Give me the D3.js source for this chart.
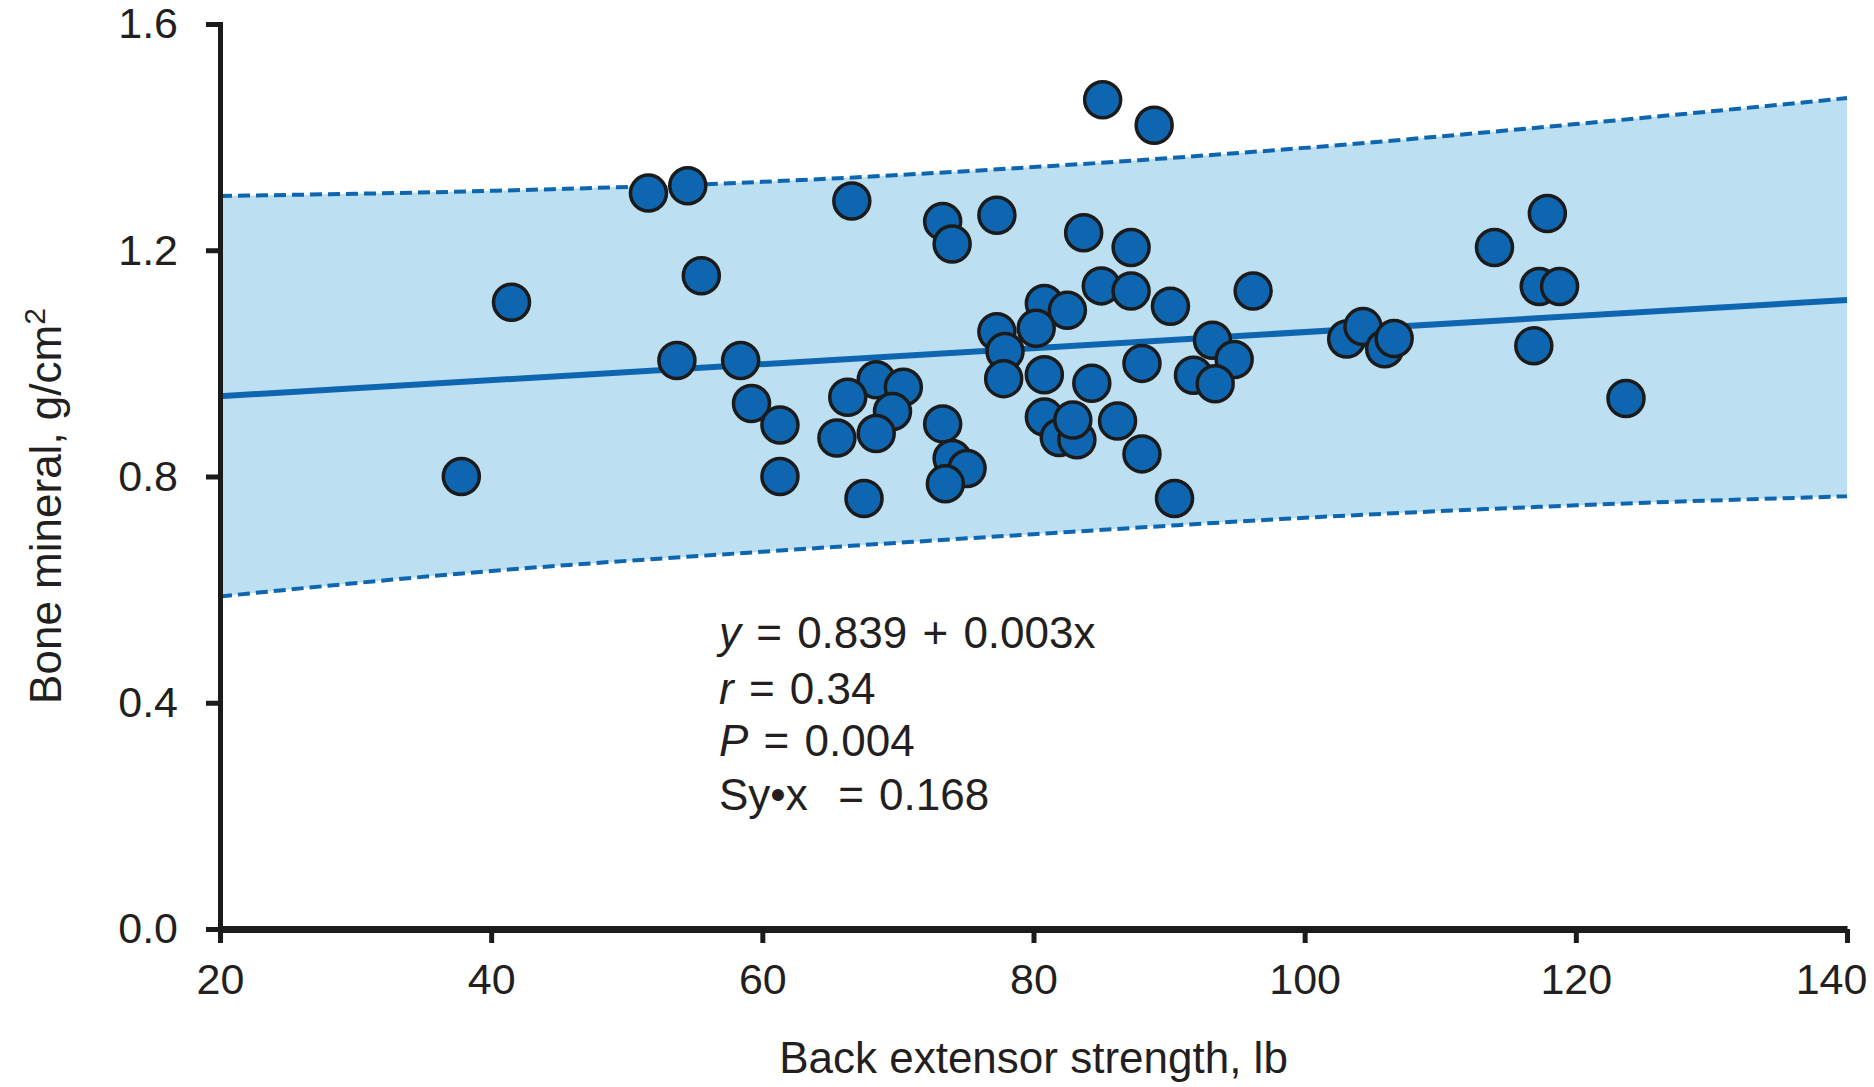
<!DOCTYPE html>
<html>
<head>
<meta charset="utf-8">
<script src="https://cdn.jsdelivr.net/npm/d3@7"></script>
<style>
  body { margin: 0; background: #fff; }
  text { font-family: "Liberation Sans", Arial, Helvetica, sans-serif; fill: #231f20; }
</style>
</head>
<body>
<div id="chart"></div>
<script>
// back extensor strength (lb) vs bone mineral (g/cm2)
var strength = [37.8, 41.5, 51.6, 54.5, 55.5, 53.7, 58.4, 59.2, 61.3, 61.3,
                66.6, 73.3, 74.0, 77.3, 83.7, 87.2, 85.0, 87.2, 80.8, 82.5,
                77.3, 80.2, 77.9, 77.8, 80.8, 84.3, 88.0, 80.8, 81.9, 83.2,
                82.9, 86.2, 88.0, 90.4, 68.4, 70.4, 66.3, 69.6, 65.5, 68.4,
                73.3, 74.0, 75.1, 73.5, 67.5, 85.1, 88.9, 90.1, 96.2, 93.2,
                94.8, 91.8, 93.4, 103.1, 104.3, 105.9, 106.6, 114.0, 117.9, 117.3,
                118.8, 116.9, 123.7];
var bone     = [0.800, 1.108, 1.301, 1.314, 1.155, 1.005, 1.005, 0.929, 0.891, 0.800,
                1.287, 1.251, 1.211, 1.262, 1.231, 1.205, 1.137, 1.128, 1.106, 1.094,
                1.056, 1.062, 1.021, 0.973, 0.980, 0.965, 1.000, 0.905, 0.869, 0.865,
                0.900, 0.898, 0.840, 0.761, 0.971, 0.958, 0.940, 0.915, 0.868, 0.876,
                0.893, 0.832, 0.814, 0.787, 0.761, 1.466, 1.421, 1.101, 1.128, 1.041,
                1.007, 0.979, 0.964, 1.043, 1.065, 1.026, 1.044, 1.205, 1.265, 1.136,
                1.136, 1.031, 0.938];

// regression line as drawn
var fitX = [20, 140];
var fitY = [0.942, 1.112];

// dashed band edges
var bandX     = [20, 40, 60, 80, 100, 120, 140];
var bandUpper = [1.296, 1.305, 1.321, 1.347, 1.381, 1.423, 1.469];
var bandLower = [0.588, 0.633, 0.667, 0.698, 0.727, 0.749, 0.765];

var xTicks = [20, 40, 60, 80, 100, 120, 140];
var yTicks = [0, 0.4, 0.8, 1.2, 1.6];

var statItalic = ["y", "r", "P", ""];
var statRest   = [" = 0.839 + 0.003x", " = 0.34", " = 0.004", "Sy\u2022x  = 0.168"];

var width = 1874;
var height = 1087;
var margin = {top: 24, right: 27, bottom: 158, left: 220};

var blue = "#0f66b0";
var bandFill = "#bcdff2";

var x = d3.scaleLinear().domain([20, 140]).range([margin.left, width - margin.right]);
var y = d3.scaleLinear().domain([0, 1.6]).range([height - margin.bottom, margin.top]);

var svg = d3.select("#chart")
  .append("svg")
    .attr("width", width)
    .attr("height", height);

var band = bandX.map(function(d, i) { return {x: d, lo: bandLower[i], hi: bandUpper[i]}; });

svg.append("path")
    .datum(band)
    .attr("fill", bandFill)
    .attr("d", d3.area()
        .curve(d3.curveMonotoneX)
        .x(function(d) { return x(d.x); })
        .y0(function(d) { return y(d.lo); })
        .y1(function(d) { return y(d.hi); }));

["hi", "lo"].forEach(function(k) {
  svg.append("path")
      .datum(band)
      .attr("fill", "none")
      .attr("stroke", blue)
      .attr("stroke-width", 4)
      .attr("stroke-dasharray", "12,6")
      .attr("d", d3.line()
          .curve(d3.curveMonotoneX)
          .x(function(d) { return x(d.x); })
          .y(function(d) { return y(d[k]); }));
});

svg.append("path")
    .datum(fitX.map(function(d, i) { return [d, fitY[i]]; }))
    .attr("fill", "none")
    .attr("stroke", blue)
    .attr("stroke-width", 6)
    .attr("d", d3.line()
        .x(function(d) { return x(d[0]); })
        .y(function(d) { return y(d[1]); }));

svg.append("g")
    .selectAll("circle")
    .data(strength)
    .enter()
      .append("circle")
      .attr("cx", function(d) { return x(d); })
      .attr("cy", function(d, i) { return y(bone[i]); })
      .attr("r", 18)
      .attr("fill", blue)
      .attr("stroke", "#1b1b1b")
      .attr("stroke-width", 3.5);

// axes
var xAxis = svg.append("g")
    .attr("transform", "translate(0," + y(0) + ")")
    .call(d3.axisBottom(x).tickValues(xTicks).tickSize(14).tickSizeOuter(0).tickPadding(20));

var yAxis = svg.append("g")
    .attr("transform", "translate(" + x(20) + ",0)")
    .call(d3.axisLeft(y).tickValues(yTicks).tickSize(14).tickSizeOuter(0).tickPadding(28)
        .tickFormat(d3.format(".1f")));

xAxis.select(".domain").attr("stroke", "#1b1b1b").attr("stroke-width", 7);
yAxis.select(".domain").attr("stroke", "#1b1b1b").attr("stroke-width", 5).attr("stroke-linecap", "square");
svg.selectAll(".tick line").attr("stroke", "#1b1b1b").attr("stroke-width", 5);
svg.selectAll(".tick text")
    .attr("font-family", "'Liberation Sans', Arial, sans-serif")
    .attr("font-size", 43)
    .attr("fill", "#231f20");

// last x label sits a little left so it stays on the page
xAxis.selectAll(".tick text")
    .filter(function(d) { return d === 140; })
    .attr("dx", -16);

// axis titles
svg.append("text")
    .attr("x", (margin.left + width - margin.right) / 2)
    .attr("y", 1073)
    .attr("text-anchor", "middle")
    .attr("font-size", 44)
    .text("Back extensor strength, lb");

var yTitle = svg.append("text")
    .attr("transform", "translate(61,506) rotate(-90)")
    .attr("text-anchor", "middle")
    .attr("font-size", 44)
    .text("Bone mineral, g/cm");
yTitle.append("tspan")
    .attr("baseline-shift", "super")
    .attr("font-size", 30)
    .text("2");

// regression stats
var statBase = [648, 704, 756, 810];
var stats = svg.append("g").attr("font-size", 44).attr("word-spacing", 3);
statRest.forEach(function(s, i) {
  var t = stats.append("text")
      .attr("x", 719)
      .attr("y", statBase[i])
      .style("white-space", "pre");
  t.append("tspan").attr("font-style", "italic").text(statItalic[i]);
  t.append("tspan").text(s);
});
</script>
</body>
</html>
